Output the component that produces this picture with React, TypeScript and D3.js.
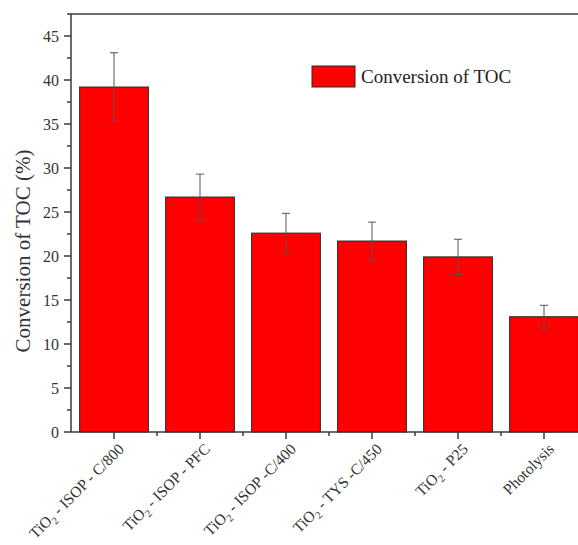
import React from "react";
import * as d3 from "d3";

const categories = [
  "TiO2 - ISOP - C/800",
  "TiO2 - ISOP - PFC",
  "TiO2 - ISOP -C/400",
  "TiO2 - TYS -C/450",
  "TiO2 - P25",
  "Photolysis",
];
const values = [39.2, 26.7, 22.6, 21.7, 19.9, 13.1];
const errors = [3.9, 2.6, 2.25, 2.15, 2.0, 1.3];
const yTicks = [0, 5, 10, 15, 20, 25, 30, 35, 40, 45];
const legendLabel = "Conversion of TOC";
const yTitle = "Conversion of TOC (%)";

const W = 578;
const H = 545;
const FONT = "Liberation Serif, DejaVu Serif, serif";

function Label({ text }: { text: string }) {
  if (text.startsWith("TiO2")) {
    const rest = text.slice(4);
    return (
      <>
        <tspan>TiO</tspan>
        <tspan fontSize={10.5} dy={4}>2</tspan>
        <tspan dy={-4}>{rest}</tspan>
      </>
    );
  }
  return <>{text}</>;
}

export default function App() {
  const left = 71;
  const top = 14;
  const bottom = 432;
  const step = 86;
  const x = d3
    .scaleBand<string>()
    .domain(categories)
    .range([left, left + step * categories.length])
    .paddingInner(0.2)
    .paddingOuter(0.1);
  const y = d3.scaleLinear().domain([0, 47.5]).range([bottom, top]);
  const minorY = d3.range(0, 47.5, 2.5).filter((v) => v % 5 !== 0);
  const bw = x.bandwidth();
  const axisColor = "#3a3a3a";

  return (
    <svg width={W} height={H} style={{ position: "absolute", left: 0, top: 0, background: "#fff", fontFamily: FONT }}>
      {categories.map((c, i) => (
        <rect
          key={c}
          x={x(c)}
          y={y(values[i])}
          width={bw}
          height={bottom - y(values[i])}
          fill="#ff0000"
          stroke="#2a2a2a"
          strokeWidth={1}
        />
      ))}
      {categories.map((c, i) => {
        const cx = (x(c) as number) + bw / 2;
        const y1 = y(values[i] + errors[i]);
        const y2 = y(values[i] - errors[i]);
        return (
          <g key={"e" + c} stroke="#555" strokeWidth={1}>
            <line x1={cx} x2={cx} y1={y1} y2={y2} />
            <line x1={cx - 4} x2={cx + 4} y1={y1} y2={y1} />
            <line x1={cx - 4} x2={cx + 4} y1={y2} y2={y2} />
          </g>
        );
      })}
      <line x1={67} x2={W} y1={top} y2={top} stroke={axisColor} strokeWidth={1.5} />
      <line x1={left} x2={left} y1={top} y2={bottom} stroke={axisColor} strokeWidth={1.5} />
      <line x1={left} x2={W} y1={bottom} y2={bottom} stroke={axisColor} strokeWidth={1.5} />
      {yTicks.map((t) => (
        <g key={"yt" + t}>
          <line x1={left - 7} x2={left} y1={y(t)} y2={y(t)} stroke={axisColor} strokeWidth={1.5} />
          <text x={left - 12} y={y(t)} dy="0.35em" textAnchor="end" fontSize={16} fill="#333">
            {t}
          </text>
        </g>
      ))}
      {minorY.map((t) => (
        <line key={"ym" + t} x1={left - 4} x2={left} y1={y(t)} y2={y(t)} stroke={axisColor} strokeWidth={1.5} />
      ))}
      {categories.map((c) => {
        const cx = (x(c) as number) + bw / 2;
        return <line key={"xt" + c} x1={cx} x2={cx} y1={bottom} y2={bottom + 7} stroke={axisColor} strokeWidth={1.5} />;
      })}
      {d3.range(1, categories.length).map((k) => {
        const bx = left + step * k;
        return <line key={"xm" + k} x1={bx} x2={bx} y1={bottom} y2={bottom + 4} stroke={axisColor} strokeWidth={1.5} />;
      })}
      {categories.map((c) => {
        const cx = (x(c) as number) + bw / 2;
        return (
          <text
            key={"xl" + c}
            transform={`translate(${cx + 11},${bottom + 18}) rotate(-45)`}
            textAnchor="end"
            fontSize={15.5}
            fill="#333"
          >
            <Label text={c} />
          </text>
        );
      })}
      <text
        transform={`translate(30,${(top + bottom) / 2 + 28}) rotate(-90)`}
        textAnchor="middle"
        fontSize={21}
        fill="#333"
      >
        {yTitle}
      </text>
      <rect x={312} y={66} width={43} height={21} fill="#ff0000" stroke="#2a2a2a" strokeWidth={1} />
      <text x={361} y={83} fontSize={19} fill="#222">
        {legendLabel}
      </text>
    </svg>
  );
}
